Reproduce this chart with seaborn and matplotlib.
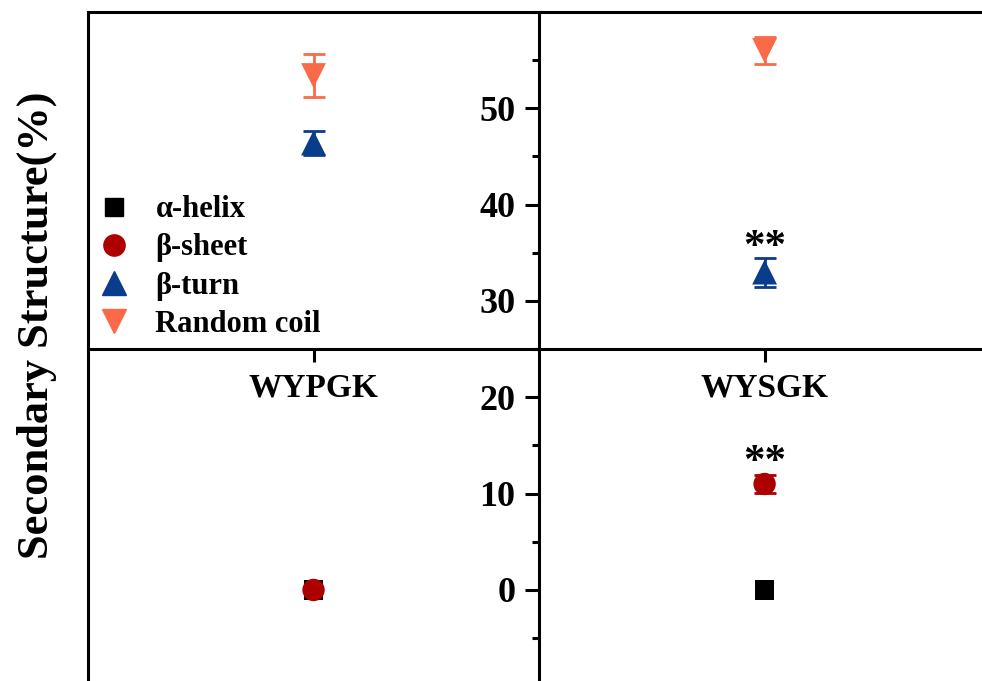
import numpy as np
import pandas as pd
import matplotlib
matplotlib.use('Agg')
import matplotlib.pyplot as plt
from matplotlib.lines import Line2D
from matplotlib.ticker import MultipleLocator
import seaborn as sns

# ---------------------------------------------------------------
# Secondary structure content of the two peptides (mean +/- SD)
# ---------------------------------------------------------------
peptides = ['WYPGK', 'WYSGK']
structures = ['α-helix', 'β-sheet', 'β-turn', 'Random coil']

helix = [0.0, 0.0]
helix_err = [0.0, 0.0]
sheet = [0.0, 11.0]
sheet_err = [0.0, 0.9]
turn = [46.4, 33.0]
turn_err = [1.2, 1.5]
coil = [53.4, 56.0]
coil_err = [2.2, 1.4]

# significance marks (vs WYPGK)
sheet_sig = ['', '**']
turn_sig = ['', '**']

colors = {'α-helix': '#000000', 'β-sheet': '#AD0000',
          'β-turn': '#0A3C8C', 'Random coil': '#FA6A48'}
markers = {'α-helix': 's', 'β-sheet': 'o', 'β-turn': '^', 'Random coil': 'v'}
sizes = {'α-helix': 190, 'β-sheet': 260, 'β-turn': 320, 'Random coil': 320}

values = {'α-helix': (helix, helix_err), 'β-sheet': (sheet, sheet_err),
          'β-turn': (turn, turn_err), 'Random coil': (coil, coil_err)}

rows = []
for s in structures:
    v, e = values[s]
    for i, p in enumerate(peptides):
        rows.append({'peptide': p, 'pos': i + 1, 'structure': s, 'value': v[i], 'err': e[i]})
df = pd.DataFrame(rows)

sns.set_style('ticks')
plt.rcParams['font.family'] = ['Liberation Serif', 'DejaVu Serif']
plt.rcParams['font.weight'] = 'bold'
plt.rcParams['text.color'] = 'black'
plt.rcParams['axes.labelcolor'] = 'black'
plt.rcParams['xtick.color'] = 'black'
plt.rcParams['ytick.color'] = 'black'

fig = plt.figure(figsize=(9.82, 6.81), dpi=100)
ax = fig.add_axes([88 / 982, 0, 1 - 88 / 982, 1 - 12 / 681])

# error bars first, markers on top (zero-width bars are not drawn)
for s in structures:
    sub = df[(df['structure'] == s) & (df['err'] > 0)]
    if len(sub):
        ax.errorbar(sub['pos'], sub['value'], yerr=sub['err'], fmt='none',
                    ecolor=colors[s], elinewidth=2, capsize=8, capthick=2, zorder=2)

sns.scatterplot(data=df, x='pos', y='value', hue='structure', style='structure',
                size='structure', hue_order=structures, style_order=structures,
                size_order=structures, palette=colors, markers=markers, sizes=sizes,
                linewidth=0, legend=False, ax=ax, zorder=3)

# significance asterisks
for i in range(len(peptides)):
    if sheet_sig[i]:
        ax.text(i + 1, sheet[i] + sheet_err[i] + 1.3, sheet_sig[i], ha='center', va='center',
                fontsize=31, fontweight='bold', family='Liberation Serif', color='black')
    if turn_sig[i]:
        ax.text(i + 1, turn[i] + turn_err[i] + 0.95, turn_sig[i], ha='center', va='center',
                fontsize=31, fontweight='bold', family='Liberation Serif', color='black')

ax.set_xlim(0.5, 2.482)
ax.set_ylim(-9.45, 60.0)

# crossing axes in the middle of the frame
ax.spines['left'].set_position(('data', 1.5))
ax.spines['bottom'].set_position(('data', 25))
ax.spines['right'].set_visible(False)
for sp in ['left', 'bottom', 'top']:
    ax.spines[sp].set_linewidth(2.2)
    ax.spines[sp].set_color('black')
ax.axvline(0.5, color='black', lw=2.2, clip_on=False, zorder=1)

ax.set_xticks([1, 2])
ax.set_xticklabels(peptides, fontsize=24, fontweight='bold')
ax.yaxis.set_major_locator(MultipleLocator(10))
ax.yaxis.set_minor_locator(MultipleLocator(5))
ax.set_yticks(np.arange(0, 60, 10))
ax.set_yticklabels([str(t) for t in range(0, 60, 10)], fontsize=26, fontweight='bold')
ax.tick_params(axis='x', direction='out', length=9, width=2.2, pad=8)
ax.tick_params(axis='y', which='major', direction='out', length=10, width=2.2, pad=7)
ax.tick_params(axis='y', which='minor', direction='out', length=5, width=2.2)

ax.set_xlabel('')
ax.set_ylabel('Secondary Structure(%)', fontsize=32, fontweight='bold')
ax.yaxis.set_label_coords(-0.035, 0.532)

handles = [Line2D([], [], marker=markers[s], color=colors[s], linestyle='none',
                  markersize=np.sqrt(sizes[s]) * 0.95) for s in structures]
ax.legend(handles, structures, loc='upper left', bbox_to_anchor=(76 / 982, 1 - 180 / 681),
          bbox_transform=fig.transFigure, frameon=False,
          prop={'weight': 'bold', 'size': 22}, handletextpad=0.6, labelspacing=0.3,
          borderpad=0, handlelength=1.5)

fig.savefig('out.png', dpi=100, facecolor='white')
